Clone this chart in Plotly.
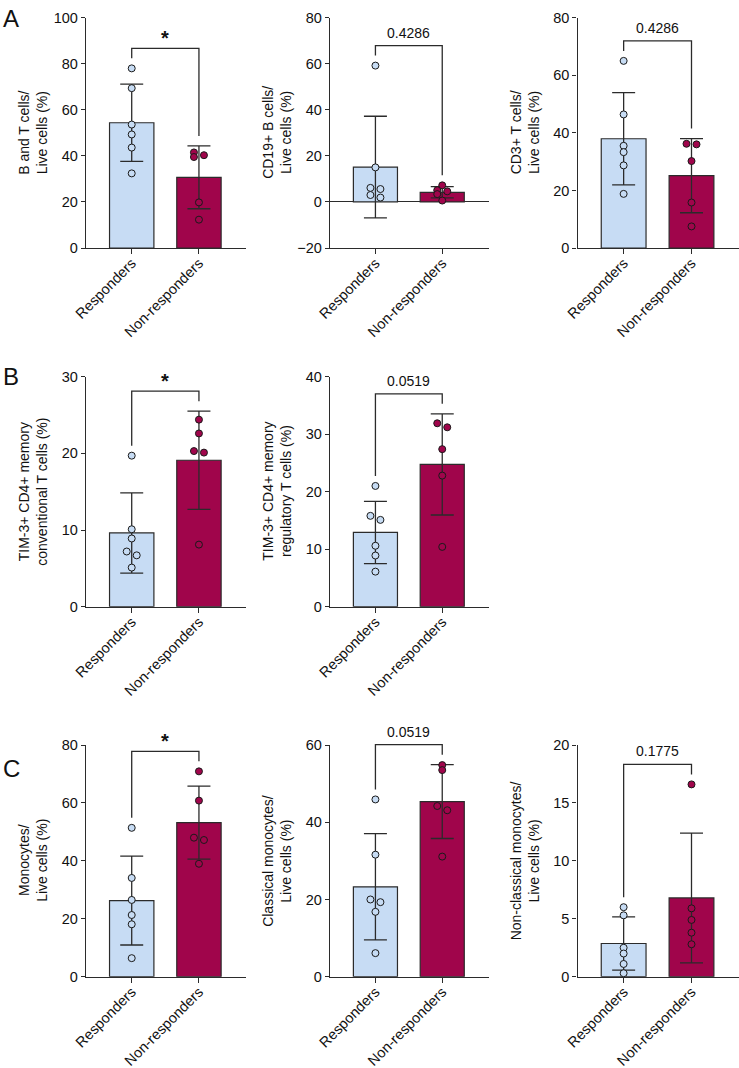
import numpy as np
import plotly.graph_objects as go

# ---------------- data ----------------
groups = ["Responders", "Non-responders"]

resp_bt = [78.0, 69.4, 53.6, 49.3, 43.6, 32.4]
nonresp_bt = [41.5, 40.3, 39.5, 19.8, 12.3]
resp_cd19 = [59.2, 15.0, 6.1, 5.6, 3.0, 1.9]
nonresp_cd19 = [7.2, 5.1, 4.6, 3.4, 0.6]
resp_cd3 = [65.0, 46.4, 35.5, 33.3, 28.7, 18.8]
nonresp_cd3 = [36.2, 36.0, 30.2, 15.8, 7.5]

resp_conv = [19.7, 10.1, 8.9, 7.2, 6.7, 5.1]
nonresp_conv = [24.4, 22.6, 20.3, 20.1, 8.1]
resp_treg = [21.0, 15.8, 15.1, 10.6, 8.9, 6.1]
nonresp_treg = [31.9, 31.2, 27.4, 22.8, 10.4]

resp_mono = [51.4, 34.1, 26.5, 21.3, 18.1, 6.4]
nonresp_mono = [70.9, 60.8, 48.0, 47.2, 39.0]
resp_classical = [45.9, 31.6, 20.0, 19.3, 16.8, 6.1]
nonresp_classical = [54.8, 53.5, 44.2, 43.1, 31.1]
resp_nonclassical = [6.0, 5.3, 2.5, 2.0, 1.1, 0.3]
nonresp_nonclassical = [16.6, 5.9, 4.9, 3.8, 2.8]

titles = [
    "B and T cells/<br>Live cells (%)",
    "CD19+ B cells/<br>Live cells (%)",
    "CD3+ T cells/<br>Live cells (%)",
    "TIM-3+ CD4+ memory<br>conventional T cells (%)",
    "TIM-3+ CD4+ memory<br>regulatory T cells (%)",
    "Monocytes/<br>Live cells (%)",
    "Classical monocytes/<br>Live cells (%)",
    "Non-classical monocytes/<br>Live cells (%)",
]
p_labels = ["*", "0.4286", "0.4286", "*", "0.0519", "*", "0.0519", "0.1775"]
y_ranges = [(0, 100), (-20, 80), (0, 80), (0, 30), (0, 40), (0, 80), (0, 60), (0, 20)]
y_dticks = [20, 20, 20, 10, 10, 20, 20, 5]
panel_letters = ["A", "B", "C"]

panels = [
    (resp_bt, nonresp_bt), (resp_cd19, nonresp_cd19), (resp_cd3, nonresp_cd3),
    (resp_conv, nonresp_conv), (resp_treg, nonresp_treg),
    (resp_mono, nonresp_mono), (resp_classical, nonresp_classical),
    (resp_nonclassical, nonresp_nonclassical),
]

# ---------------- layout geometry ----------------
W, H = 739, 1068
col_px = [(86, 246), (330, 489), (577.5, 739)]
row_px = [(17.7, 248), (376.7, 606.7), (745, 976.7)]
letter_top_px = [3, 361, 753]
cells = [(0, 0), (0, 1), (0, 2), (1, 0), (1, 1), (2, 0), (2, 1), (2, 2)]
x_range = (-0.68, 1.70)

LIGHT = "#C7DCF4"
DARK = "#A0054B"
INK = "#2b2b2b"
FONT = "Arial, Liberation Sans, sans-serif"
FS_TICK = 14.5
FS_XTICK = 14.5
FS_TITLE = 14
FS_P = 14

fig = go.Figure()
layout = dict(width=W, height=H,
              margin=dict(l=0, r=0, t=0, b=0, pad=0, autoexpand=False),
              plot_bgcolor="white", paper_bgcolor="white", showlegend=False,
              font=dict(family=FONT, color=INK, size=FS_TICK))
annotations = []
shapes = []


def swarm_offsets(vals, ppy, ppx):
    vals = np.asarray(vals, float)
    order = np.argsort(-vals)
    off = np.zeros(len(vals))
    clusters = []
    for idx in order:
        if clusters and (vals[clusters[-1][-1]] - vals[idx]) * ppy < 4.5:
            clusters[-1].append(idx)
        else:
            clusters.append([idx])
    for cl in clusters:
        if len(cl) > 1:
            for k, idx in enumerate(cl):
                off[idx] = (-5 if k % 2 == 0 else 5) / ppx
    return off


for i, ((r, c), (resp, nonresp)) in enumerate(zip(cells, panels)):
    n = i + 1
    xa = "x" if n == 1 else f"x{n}"
    ya = "y" if n == 1 else f"y{n}"
    x0, x1 = col_px[c]
    y0, y1 = row_px[r]
    ylo, yhi = y_ranges[i]
    ppy = (y1 - y0) / (yhi - ylo)
    ppx = (x1 - x0) / (x_range[1] - x_range[0])

    means = [np.mean(resp), np.mean(nonresp)]
    sds = [np.std(resp, ddof=1), np.std(nonresp, ddof=1)]

    fig.add_trace(go.Bar(
        x=[0, 1], y=means, width=0.66, xaxis=xa, yaxis=ya,
        marker=dict(color=[LIGHT, DARK], line=dict(color=INK, width=1.2)),
        error_y=dict(type="data", array=sds, visible=True, color=INK,
                     thickness=1.3, width=11.5),
    ))
    for g, (vals, col) in enumerate([(resp, LIGHT), (nonresp, DARK)]):
        offs = swarm_offsets(vals, ppy, ppx)
        fig.add_trace(go.Scatter(
            x=g + offs, y=vals, mode="markers", xaxis=xa, yaxis=ya,
            cliponaxis=False,
            marker=dict(size=7, color=col, line=dict(color="#1a1a1a", width=1)),
        ))

    # significance bracket derived from the data (axis-domain units so it is not clipped)
    tops = [max(max(resp), means[0] + sds[0]), max(max(nonresp), means[1] + sds[1])]
    legs = [t + 10 / ppy for t in tops]
    top = max(legs) + 10 / ppy
    to_dom = lambda v: (v - ylo) / (yhi - ylo)
    shapes.append(dict(type="path", xref=xa, yref=f"{ya} domain",
                       path=(f"M 0 {to_dom(legs[0])} L 0 {to_dom(top)} "
                             f"L 1 {to_dom(top)} L 1 {to_dom(legs[1])}"),
                       line=dict(color=INK, width=1.3)))
    is_star = p_labels[i] == "*"
    annotations.append(dict(
        x=0.5, y=to_dom(top), xref=xa, yref=f"{ya} domain",
        text="<b>*</b>" if is_star else p_labels[i], showarrow=False,
        yanchor="bottom", yshift=-3 if is_star else 3,
        font=dict(size=20 if is_star else FS_P, family=FONT, color="#111"),
    ))

    # y-axis title
    annotations.append(dict(
        x=(x0 - 53) / W, y=1 - (y0 + y1) / 2 / H, xref="paper", yref="paper",
        text=titles[i], textangle=-90, showarrow=False,
        xanchor="center", yanchor="middle",
        font=dict(size=FS_TITLE, family=FONT, color="#111"),
    ))

    layout["xaxis" if n == 1 else f"xaxis{n}"] = dict(
        domain=[x0 / W, x1 / W], anchor=ya, range=list(x_range),
        tickvals=[0, 1], ticktext=groups, tickangle=-45, automargin=False,
        ticklabelstandoff=-5,
        showline=True, linecolor=INK, linewidth=1.3,
        ticks="outside", ticklen=5, tickwidth=1.2, tickcolor=INK,
        showgrid=False, zeroline=False, fixedrange=True,
        tickfont=dict(size=FS_XTICK, family=FONT, color="#111"),
    )
    layout["yaxis" if n == 1 else f"yaxis{n}"] = dict(
        domain=[1 - y1 / H, 1 - y0 / H], anchor=xa, range=[ylo, yhi],
        dtick=y_dticks[i], tick0=0, automargin=False,
        showline=True, linecolor=INK, linewidth=1.3,
        ticks="outside", ticklen=4, tickwidth=1.2, tickcolor=INK,
        showgrid=False, zeroline=(ylo < 0), zerolinecolor=INK, zerolinewidth=1.3,
        tickfont=dict(size=FS_TICK, family=FONT, color="#111"),
    )

for letter, ytop in zip(panel_letters, letter_top_px):
    annotations.append(dict(
        x=0.002, y=1 - ytop / H, xref="paper", yref="paper", text=letter,
        showarrow=False, xanchor="left", yanchor="top",
        font=dict(size=24, family=FONT, color="#111"),
    ))

layout["annotations"] = annotations
layout["shapes"] = shapes
fig.update_layout(**layout)
fig.write_html("out.html")
